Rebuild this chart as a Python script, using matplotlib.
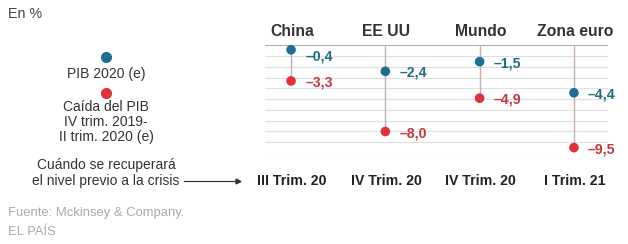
import numpy as np
import matplotlib
matplotlib.use('Agg')
import matplotlib.pyplot as plt
import matplotlib.transforms as mtransforms

plt.rcParams['font.family'] = ['Liberation Sans', 'DejaVu Sans']

regiones = ['China', 'EE UU', 'Mundo', 'Zona euro']
pib_2020 = [-0.4, -2.4, -1.5, -4.4]
caida_pib = [-3.3, -8.0, -4.9, -9.5]
recuperacion = ['III Trim. 20', 'IV Trim. 20', 'IV Trim. 20', 'I Trim. 21']

azul = '#1b6f95'
azul_txt = '#1f6f80'
rojo = '#e0323a'
rojo_txt = '#c23a3c'

fig = plt.figure(figsize=(6.28, 2.44), dpi=100)
ax = fig.add_axes([0.422, 0.373, 0.546, 0.4406])
ax.set_xlim(-0.276, 3.36)
ax.set_ylim(-10, 0)

# lineas horizontales
for v in range(-10, 0):
    ax.axhline(v, color='#e0e0e0', lw=0.9, zorder=0)
ax.axhline(0, color='#999999', lw=1.2, zorder=1)

x = np.arange(len(regiones))
for i in range(len(regiones)):
    ax.plot([x[i], x[i]], [0, caida_pib[i]], color='#c2b0b6', lw=1, zorder=2)
ax.scatter(x, pib_2020, s=48, color=azul, zorder=3, clip_on=False, edgecolors='none')
ax.scatter(x, caida_pib, s=48, color=rojo, zorder=3, clip_on=False, edgecolors='none')

def fmt(v):
    return ('%.1f' % v).replace('-', '–').replace('.', ',')

for i in range(len(regiones)):
    dy = -0.15
    if pib_2020[i] > -1:
        dy = -0.65  # evitar la linea superior
    ax.text(x[i] + 0.15, pib_2020[i] + dy, fmt(pib_2020[i]),
            color=azul_txt, fontsize=10.2, fontweight='bold', va='center', ha='left')
    ax.text(x[i] + 0.15, caida_pib[i] - 0.15, fmt(caida_pib[i]),
            color=rojo_txt, fontsize=10.2, fontweight='bold', va='center', ha='left')

trans = mtransforms.blended_transform_factory(ax.transData, fig.transFigure)
for i in range(len(regiones)):
    ax.text(x[i] + 0.01, 1 - 32 / 244, regiones[i], transform=trans, ha='center', va='center',
            fontsize=11.3, fontweight='bold', color='#333333')
    ax.text(x[i] + 0.01, 1 - 181 / 244, recuperacion[i], transform=trans, ha='center', va='center',
            fontsize=10.2, fontweight='bold', color='#222222')

for s in ax.spines.values():
    s.set_visible(False)
ax.set_xticks([])
ax.set_yticks([])

# leyenda izquierda
def fy(p):
    return 1 - p / 244

fig.text(8 / 628, fy(14), 'En %', fontsize=10.3, color='#444444', va='center')
lx = 106 / 628
fig.add_artist(plt.Line2D([lx], [fy(57)], marker='o', markersize=7, color=azul, transform=fig.transFigure))
fig.text(lx, fy(74), 'PIB 2020 (e)', fontsize=10, color='#333333', ha='center', va='center')
fig.add_artist(plt.Line2D([lx], [fy(93)], marker='o', markersize=7, color=rojo, transform=fig.transFigure))
fig.text(lx, fy(122), 'Caída del PIB\nIV trim. 2019-\nII trim. 2020 (e)', fontsize=10, color='#333333',
         ha='center', va='center', linespacing=1.1)
fig.text(lx, fy(173), 'Cuándo se recuperará\nel nivel previo a la crisis', fontsize=10, color='#333333',
         ha='center', va='center', linespacing=1.1)
fig.add_artist(plt.Line2D([184 / 628, 236 / 628], [fy(181), fy(181)], color='#333333', lw=0.9,
                          transform=fig.transFigure))
fig.add_artist(plt.Line2D([238 / 628], [fy(181)], marker='>', markersize=3.5, color='#333333',
                          transform=fig.transFigure))

fig.text(8 / 628, fy(213), 'Fuente: Mckinsey & Company.', fontsize=9.4, color='#aaaaaa', va='center')
fig.text(8 / 628, fy(232), 'EL PAÍS', fontsize=9.4, color='#aaaaaa', va='center')

fig.savefig('out.png', dpi=100, facecolor='white')
